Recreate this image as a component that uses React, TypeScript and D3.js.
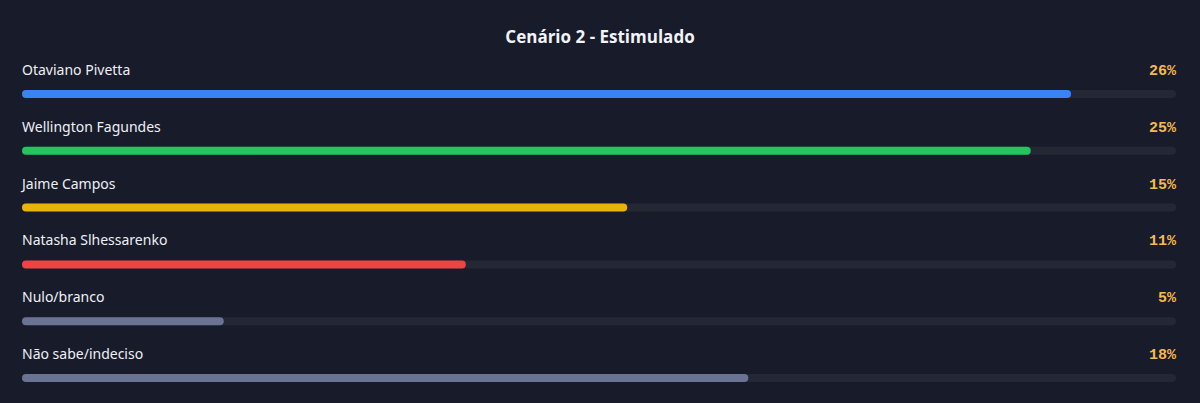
import React from "react";
import * as d3 from "d3";

const title = "Cenário 2 - Estimulado";
const candidates = [
  "Otaviano Pivetta",
  "Wellington Fagundes",
  "Jaime Campos",
  "Natasha Slhessarenko",
  "Nulo/branco",
  "Não sabe/indeciso",
];
const values = [26, 25, 15, 11, 5, 18];
const colors = ["#3b82f6", "#22c55e", "#eab308", "#ef4444", "#6b7394", "#6b7394"];

const W = 1200;
const H = 403;
const left = 22;
const right = 1176;
const firstBarY = 90;
const rowStep = 56.8;
const barH = 8;

export default function App() {
  const maxV = d3.max(values) as number;
  const x = d3.scaleLinear().domain([0, maxV * 1.1]).range([0, right - left]);
  const y = d3
    .scaleLinear()
    .domain([0, candidates.length - 1])
    .range([firstBarY, firstBarY + rowStep * (candidates.length - 1)]);

  return (
    <div style={{ position: "fixed", left: 0, top: 0, width: W, height: H, background: "#181b2a" }}>
      <svg width={W} height={H} style={{ display: "block" }}>
        <rect x={0} y={0} width={W} height={H} fill="#181b2a" />
        <text
          x={W / 2}
          y={43}
          textAnchor="middle"
          fill="#f1f3f7"
          fontFamily="'Open Sans', 'Noto Sans', sans-serif"
          fontWeight={700}
          fontSize={17}
        >
          {title}
        </text>
        {candidates.map((c, i) => {
          const by = y(i);
          return (
            <g key={c}>
              <text
                x={left}
                y={by - 15}
                fill="#eef0f5"
                fontFamily="'Noto Sans', 'Open Sans', sans-serif"
                fontSize={14}
              >
                {c}
              </text>
              <text
                x={right}
                y={by - 15}
                textAnchor="end"
                fill="#f6b94a"
                fontFamily="'Liberation Mono', 'DejaVu Sans Mono', monospace"
                fontWeight={700}
                fontSize={15}
              >
                {values[i]}%
              </text>
              <rect x={left} y={by} width={right - left} height={barH} rx={4} fill="#242835" />
              <rect x={left} y={by} width={x(values[i])} height={barH} rx={4} fill={colors[i]} />
            </g>
          );
        })}
      </svg>
    </div>
  );
}
